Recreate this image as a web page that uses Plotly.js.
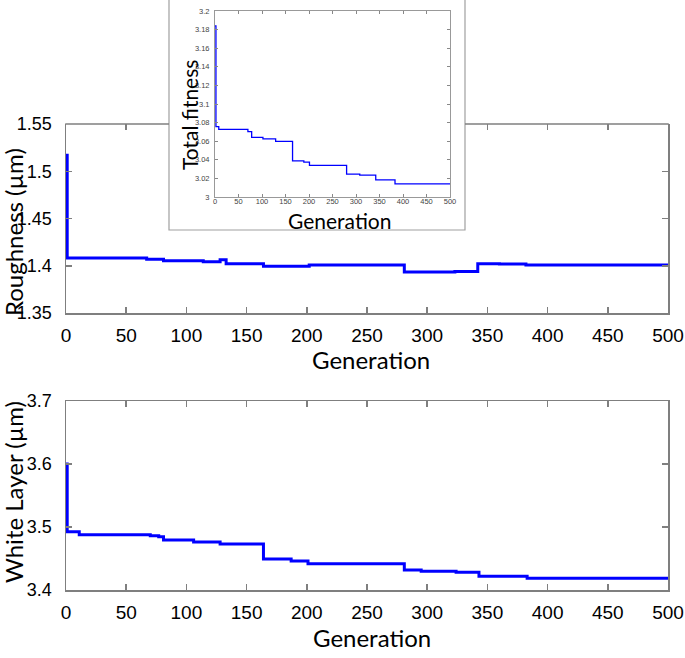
<!DOCTYPE html>
<html>
<head>
<meta charset="utf-8">
<script src="https://cdn.plot.ly/plotly-3.0.1.min.js"></script>
<style>html,body{margin:0;padding:0;background:#fff;}#chart{width:685px;height:658px;}</style>
</head>
<body>
<div id="chart"></div>
<script>
// ---- data ----
const genRough = [0, 1, 67, 81, 114, 128, 133, 164, 202, 281, 323, 342, 360, 382, 500];
const roughness = [1.517, 1.4081, 1.4068, 1.4053, 1.4042, 1.4063, 1.4021, 1.3994, 1.4008, 1.3933, 1.394, 1.4021, 1.4018, 1.4007, 1.4007];

const genWhite = [0, 1, 11, 70, 77, 81, 106, 128, 164, 187, 201, 281, 295, 324, 343, 383, 500];
const whiteLayer = [3.600, 3.4926, 3.4878, 3.4862, 3.4845, 3.4794, 3.4762, 3.473, 3.4492, 3.446, 3.4418, 3.4317, 3.4297, 3.4281, 3.4217, 3.4186, 3.4186];

const genFit = [0, 2, 8, 70, 78, 102, 129, 165, 189, 201, 280, 308, 342, 383, 500];
const totalFitness = [3.184, 3.0757, 3.0728, 3.0703, 3.0642, 3.0624, 3.0599, 3.0389, 3.0375, 3.0339, 3.0245, 3.0235, 3.0184, 3.0141, 3.0141];

const genTicks = [0, 50, 100, 150, 200, 250, 300, 350, 400, 450, 500];
const genTickText = ['0', '50', '100', '150', '200', '250', '300', '350', '400', '450', '500'];
const roughTicks = [1.35, 1.4, 1.45, 1.5, 1.55];
const roughTickText = ['1.35', '1.4', '1.45', '1.5', '1.55'];
const whiteTicks = [3.4, 3.5, 3.6, 3.7];
const whiteTickText = ['3.4', '3.5', '3.6', '3.7'];
const fitTicks = [3, 3.02, 3.04, 3.06, 3.08, 3.1, 3.12, 3.14, 3.16, 3.18, 3.2];
const fitTickText = ['3', '3.02', '3.04', '3.06', '3.08', '3.1', '3.12', '3.14', '3.16', '3.18', '3.2'];
const topVisibleTicks = [50, 350, 400, 450, 500];

const titleGen = 'Generation';
const titleRough = 'Roughness (µm)';
const titleWhite = 'White Layer (µm)';
const titleFit = 'Total fitness';

// ---- layout helpers ----
const W = 685, H = 658;
const px = v => v / W;
const py = v => 1 - v / H;
const frame = '#7f7f7f';
const xTickFont = {family: 'Liberation Sans, Arial, sans-serif', size: 19, color: '#000'};
const yTickFont = {family: 'Liberation Sans, Arial, sans-serif', size: 18, color: '#000'};
const titleFontFam = 'Lato, Open Sans, sans-serif';

function mainX(anchor, mirror) {
  return {
    domain: [px(66), px(668)], anchor: anchor, range: [0, 500],
    tickvals: genTicks, ticktext: genTickText,
    ticks: 'inside', ticklen: 6, tickwidth: 1.5, tickcolor: frame,
    showline: true, linecolor: frame, linewidth: 1.5, mirror: mirror,
    showgrid: false, zeroline: false, tickfont: xTickFont, ticklabelstandoff: 5
  };
}
function mainY(anchor, dom, rng, tv, tt) {
  return {
    domain: dom, anchor: anchor, range: rng,
    tickvals: tv, ticktext: tt,
    ticks: 'inside', ticklen: 6, tickwidth: 1.5, tickcolor: frame,
    showline: true, linecolor: frame, linewidth: 1.5, mirror: 'ticks',
    showgrid: false, zeroline: false, tickfont: yTickFont, ticklabelstandoff: 9
  };
}

const traces = [
  {x: genRough, y: roughness, xaxis: 'x', yaxis: 'y', mode: 'lines',
   line: {color: '#0000ff', width: 3, shape: 'hv'}, hoverinfo: 'skip'},
  {x: genWhite, y: whiteLayer, xaxis: 'x2', yaxis: 'y2', mode: 'lines',
   line: {color: '#0000ff', width: 3, shape: 'hv'}, hoverinfo: 'skip'},
  {x: genFit, y: totalFitness, xaxis: 'x3', yaxis: 'y3', mode: 'lines',
   line: {color: '#0000ff', width: 1.3, shape: 'hv'}, hoverinfo: 'skip'},
  {x: [], y: [], xaxis: 'x4', yaxis: 'y', mode: 'lines', hoverinfo: 'skip'}
];

const insetTickFont = {family: 'Liberation Sans, Arial, sans-serif', size: 7.5, color: '#444'};

const layout = {
  width: W, height: H, autosize: false,
  margin: {l: 0, r: 0, t: 0, b: 0, pad: 0},
  paper_bgcolor: '#ffffff', plot_bgcolor: '#ffffff',
  showlegend: false,
  xaxis: mainX('y', false),
  yaxis: mainY('x', [py(313), py(124)], [1.35, 1.55], roughTicks, roughTickText),
  xaxis2: mainX('y2', 'ticks'),
  yaxis2: mainY('x2', [py(590), py(401)], [3.4, 3.7], whiteTicks, whiteTickText),
  xaxis3: {
    domain: [px(215), px(450)], anchor: 'y3', range: [0, 500],
    tickvals: genTicks, ticktext: genTickText,
    ticks: 'inside', ticklen: 3, tickwidth: 1, tickcolor: '#888',
    showline: true, linecolor: '#999', linewidth: 1, mirror: 'ticks',
    showgrid: false, zeroline: false, tickfont: insetTickFont, ticklabelstandoff: -3
  },
  yaxis3: {
    domain: [py(197), py(11)], anchor: 'x3', range: [3, 3.2],
    tickvals: fitTicks, ticktext: fitTickText,
    ticks: 'inside', ticklen: 3, tickwidth: 1, tickcolor: '#888',
    showline: true, linecolor: '#999', linewidth: 1, mirror: 'ticks',
    showgrid: false, zeroline: false, tickfont: insetTickFont, ticklabelstandoff: 3
  },
  xaxis4: {
    overlaying: 'x', side: 'top', anchor: 'y', range: [0, 500],
    tickvals: topVisibleTicks, showticklabels: false,
    ticks: 'inside', ticklen: 6, tickwidth: 1.5, tickcolor: frame,
    showline: false, showgrid: false, zeroline: false
  },
  shapes: [
    {type: 'rect', xref: 'paper', yref: 'paper', layer: 'below',
     x0: px(169), x1: px(465), y0: py(230), y1: py(-2),
     line: {color: '#a0a0a0', width: 1.2}, fillcolor: '#ffffff'},
    {type: 'line', xref: 'paper', yref: 'paper', layer: 'above',
     x0: px(65.25), x1: px(169), y0: py(124), y1: py(124),
     line: {color: frame, width: 1.5}},
    {type: 'line', xref: 'paper', yref: 'paper', layer: 'above',
     x0: px(465), x1: px(668.75), y0: py(124), y1: py(124),
     line: {color: frame, width: 1.5}}
  ],
  annotations: [
    {text: titleGen, xref: 'paper', yref: 'paper', x: px(371), y: py(359),
     xanchor: 'center', yanchor: 'middle', showarrow: false,
     font: {family: titleFontFam, size: 24, color: '#000'}},
    {text: titleGen, xref: 'paper', yref: 'paper', x: px(372), y: py(637),
     xanchor: 'center', yanchor: 'middle', showarrow: false,
     font: {family: titleFontFam, size: 24, color: '#000'}},
    {text: titleRough, xref: 'paper', yref: 'paper', x: px(14), y: py(232),
     xanchor: 'center', yanchor: 'middle', showarrow: false, textangle: -90,
     font: {family: titleFontFam, size: 24, color: '#000'}},
    {text: titleWhite, xref: 'paper', yref: 'paper', x: px(13), y: py(492),
     xanchor: 'center', yanchor: 'middle', showarrow: false, textangle: -90,
     font: {family: titleFontFam, size: 24, color: '#000'}},
    {text: titleFit, xref: 'paper', yref: 'paper', x: px(189), y: py(115),
     xanchor: 'center', yanchor: 'middle', showarrow: false, textangle: -90,
     font: {family: titleFontFam, size: 21, color: '#000'}},
    {text: titleGen, xref: 'paper', yref: 'paper', x: px(339), y: py(220),
     xanchor: 'center', yanchor: 'middle', showarrow: false,
     font: {family: titleFontFam, size: 21, color: '#000'}}
  ]
};

Plotly.newPlot('chart', traces, layout, {staticPlot: true, displayModeBar: false});
</script>
</body>
</html>
